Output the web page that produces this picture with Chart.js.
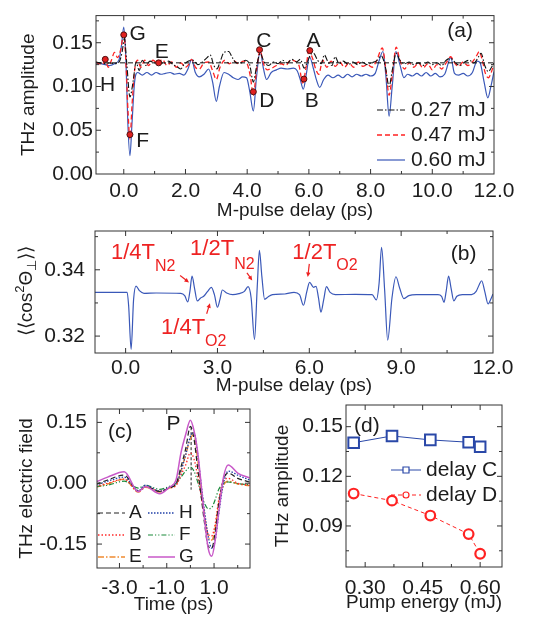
<!DOCTYPE html>
<html>
<head>
<meta charset="utf-8">
<script src="https://cdn.jsdelivr.net/npm/chart.js@4.4.1/dist/chart.umd.min.js"></script>
<style>
  html, body { margin: 0; padding: 0; background: #fff; }
  #wrap { position: relative; width: 535px; height: 619px; }
  canvas { position: absolute; left: 0; top: 0; }
</style>
</head>
<body>
<div id="wrap">
  <canvas id="ca" width="535" height="619"></canvas>
  <canvas id="cb" width="535" height="619"></canvas>
  <canvas id="cc" width="535" height="619"></canvas>
  <canvas id="cd" width="535" height="619"></canvas>
</div>
<script>
const FONT = "'Liberation Sans', Arial, Helvetica, sans-serif";
const INK = '#1c1c1c';
const RED = '#ee2222';

// (a) THz amplitude vs M-pulse delay, [delay ps, amplitude]
const amp027 = [[-0.9,0.128],[-0.75,0.127],[-0.6,0.126],[-0.45,0.127],[-0.3,0.126],[-0.15,0.128],[-0.05,0.14],[0.02,0.155],[0.1,0.125],[0.2,0.088],[0.3,0.105],[0.4,0.128],[0.5,0.118],[0.6,0.13],[0.72,0.124],[0.85,0.129],[1.0,0.127],[1.15,0.129],[1.3,0.126],[1.45,0.129],[1.6,0.125],[1.75,0.122],[1.85,0.12],[1.95,0.125],[2.1,0.129],[2.25,0.13],[2.4,0.125],[2.55,0.128],[2.7,0.133],[2.8,0.136],[2.92,0.124],[3.02,0.12],[3.12,0.128],[3.25,0.139],[3.4,0.14],[3.52,0.133],[3.65,0.127],[3.8,0.127],[3.95,0.13],[4.08,0.125],[4.2,0.105],[4.3,0.122],[4.42,0.138],[4.55,0.128],[4.7,0.124],[4.85,0.128],[5.0,0.126],[5.15,0.13],[5.3,0.127],[5.45,0.131],[5.6,0.128],[5.72,0.131],[5.85,0.121],[5.95,0.128],[6.05,0.136],[6.15,0.138],[6.28,0.13],[6.4,0.126],[6.5,0.136],[6.62,0.128],[6.75,0.124],[6.85,0.134],[6.98,0.126],[7.12,0.129],[7.28,0.125],[7.42,0.128],[7.58,0.125],[7.72,0.128],[7.88,0.125],[8.02,0.127],[8.18,0.129],[8.35,0.135],[8.48,0.122],[8.6,0.1],[8.7,0.118],[8.83,0.138],[8.95,0.13],[9.1,0.126],[9.25,0.128],[9.4,0.125],[9.55,0.127],[9.7,0.124],[9.85,0.128],[10.0,0.125],[10.15,0.127],[10.3,0.124],[10.45,0.13],[10.6,0.132],[10.75,0.127],[10.9,0.124],[11.05,0.128],[11.2,0.13],[11.35,0.127],[11.5,0.134],[11.58,0.138],[11.7,0.124],[11.82,0.117],[11.92,0.122],[12.0,0.127]];
const amp047 = [[-0.9,0.128],[-0.8,0.126],[-0.7,0.125],[-0.6,0.13],[-0.5,0.122],[-0.4,0.13],[-0.3,0.139],[-0.2,0.133],[-0.1,0.142],[0.0,0.16],[0.08,0.12],[0.14,0.07],[0.2,0.04],[0.27,0.08],[0.35,0.118],[0.45,0.13],[0.55,0.122],[0.68,0.13],[0.8,0.124],[0.95,0.13],[1.1,0.126],[1.25,0.131],[1.4,0.124],[1.55,0.128],[1.7,0.122],[1.85,0.127],[2.0,0.122],[2.1,0.125],[2.2,0.131],[2.32,0.122],[2.45,0.12],[2.6,0.127],[2.75,0.128],[2.88,0.118],[3.0,0.108],[3.12,0.122],[3.28,0.13],[3.42,0.126],[3.58,0.129],[3.72,0.126],[3.88,0.129],[4.0,0.126],[4.1,0.112],[4.2,0.09],[4.3,0.118],[4.42,0.141],[4.53,0.126],[4.65,0.119],[4.8,0.121],[4.95,0.124],[5.1,0.126],[5.25,0.124],[5.4,0.13],[5.55,0.129],[5.68,0.124],[5.8,0.104],[5.9,0.12],[6.0,0.14],[6.12,0.132],[6.22,0.12],[6.32,0.114],[6.45,0.13],[6.58,0.122],[6.72,0.129],[6.86,0.123],[7.0,0.128],[7.15,0.122],[7.3,0.127],[7.45,0.122],[7.6,0.128],[7.75,0.123],[7.9,0.125],[8.05,0.122],[8.2,0.13],[8.38,0.144],[8.5,0.118],[8.6,0.09],[8.7,0.112],[8.83,0.145],[8.95,0.13],[9.1,0.12],[9.25,0.127],[9.4,0.122],[9.55,0.127],[9.7,0.121],[9.85,0.126],[10.0,0.119],[10.15,0.125],[10.3,0.12],[10.45,0.127],[10.6,0.134],[10.72,0.127],[10.85,0.123],[11.0,0.128],[11.15,0.124],[11.3,0.128],[11.45,0.136],[11.52,0.14],[11.62,0.13],[11.72,0.115],[11.82,0.11],[11.92,0.117],[12.0,0.126]];
const amp060 = [[-0.9,0.127],[-0.75,0.126],[-0.6,0.125],[-0.45,0.124],[-0.3,0.126],[-0.15,0.131],[-0.07,0.148],[0.0,0.168],[0.07,0.13],[0.13,0.06],[0.2,0.021],[0.27,0.06],[0.35,0.105],[0.45,0.116],[0.6,0.113],[0.75,0.116],[0.9,0.113],[1.05,0.116],[1.2,0.114],[1.35,0.115],[1.5,0.116],[1.65,0.114],[1.8,0.115],[1.95,0.113],[2.08,0.12],[2.2,0.131],[2.32,0.116],[2.45,0.111],[2.6,0.114],[2.75,0.12],[2.88,0.105],[3.0,0.083],[3.1,0.1],[3.25,0.116],[3.4,0.114],[3.55,0.11],[3.7,0.108],[3.85,0.111],[3.98,0.11],[4.08,0.095],[4.2,0.072],[4.3,0.11],[4.42,0.14],[4.53,0.12],[4.63,0.108],[4.78,0.116],[4.95,0.119],[5.1,0.121],[5.3,0.12],[5.5,0.121],[5.62,0.118],[5.72,0.108],[5.82,0.097],[5.92,0.115],[6.02,0.134],[6.15,0.12],[6.25,0.107],[6.35,0.099],[6.48,0.108],[6.62,0.113],[6.78,0.11],[6.95,0.113],[7.1,0.11],[7.25,0.114],[7.4,0.111],[7.55,0.114],[7.7,0.112],[7.85,0.114],[8.0,0.112],[8.15,0.115],[8.28,0.13],[8.4,0.14],[8.5,0.11],[8.6,0.066],[8.7,0.1],[8.82,0.14],[8.95,0.125],[9.08,0.11],[9.2,0.114],[9.35,0.112],[9.5,0.115],[9.65,0.112],[9.8,0.116],[9.95,0.112],[10.1,0.115],[10.25,0.111],[10.4,0.114],[10.6,0.133],[10.72,0.115],[10.85,0.113],[11.0,0.115],[11.15,0.112],[11.3,0.116],[11.45,0.129],[11.55,0.127],[11.68,0.105],[11.8,0.087],[11.9,0.1],[12.0,0.117]];
const ampBase = 0.127;
const markNames = ['H', 'G', 'F', 'E', 'D', 'C', 'B', 'A'];
const markDelay = [-0.6, 0.0, 0.2, 1.13, 4.2, 4.4, 5.84, 6.03];
const markAmp = [0.131, 0.159, 0.045, 0.127, 0.094, 0.142, 0.1085, 0.141];

// (b) calculated alignment <<cos^2>> vs delay
const alignCurve = [[-1.0,0.3332],[0.05,0.3332],[0.1,0.329],[0.18,0.316],[0.26,0.331],[0.34,0.3351],[0.45,0.3337],[0.6,0.3329],[1.0,0.333],[1.8,0.3329],[1.93,0.3322],[2.03,0.3303],[2.1,0.3335],[2.17,0.3381],[2.25,0.3345],[2.34,0.3306],[2.45,0.3315],[2.55,0.332],[2.68,0.3335],[2.8,0.3347],[2.9,0.3325],[3.0,0.3287],[3.08,0.331],[3.16,0.3339],[3.3,0.333],[3.5,0.3325],[3.7,0.3328],[3.88,0.3335],[4.0,0.3349],[4.1,0.3315],[4.21,0.319],[4.3,0.335],[4.37,0.3459],[4.45,0.338],[4.54,0.3311],[4.65,0.3318],[4.8,0.3325],[5.2,0.3327],[5.5,0.3332],[5.68,0.3325],[5.81,0.3293],[5.92,0.3335],[6.01,0.3362],[6.14,0.3347],[6.22,0.335],[6.3,0.3315],[6.38,0.3272],[6.47,0.331],[6.56,0.3349],[6.68,0.3332],[6.85,0.3325],[7.5,0.3326],[8.05,0.3325],[8.19,0.3309],[8.28,0.336],[8.36,0.3468],[8.46,0.334],[8.56,0.3188],[8.7,0.3315],[8.83,0.3379],[8.95,0.3345],[9.09,0.3313],[9.25,0.3322],[9.5,0.3325],[10.2,0.3325],[10.32,0.332],[10.4,0.3302],[10.47,0.3335],[10.55,0.3381],[10.63,0.3345],[10.72,0.3306],[10.82,0.332],[11.0,0.3325],[11.3,0.3325],[11.45,0.3335],[11.55,0.3355],[11.63,0.3367],[11.73,0.3335],[11.84,0.3297],[11.93,0.3312],[12.0,0.3327]];

// (c) THz waveforms at delays A..H
const waveTime = [-4, -3.5, -2.8, -2.2, -1.9, -1.3, -0.9, -0.6, -0.4, -0.2, 0, 0.15, 0.3, 0.45, 0.6, 0.75, 0.9, 1.05, 1.2, 1.4, 1.6, 2.0, 2.5];
const waveA = [-0.003, 0.008, 0.02, -0.02, -0.008, -0.02, -0.012, 0.0, 0.04, 0.085, 0.14, 0.11, 0.04, -0.03, -0.1, -0.155, -0.16, -0.12, -0.05, 0.01, 0.025, 0.012, 0.003];
const waveH = [-0.005, 0.005, 0.015, -0.018, -0.005, -0.02, -0.01, 0.0, 0.03, 0.07, 0.115, 0.125, 0.075, 0.0, -0.07, -0.13, -0.16, -0.14, -0.075, 0.0, 0.03, 0.02, 0.008];
const waveB = [-0.008, 0.0, 0.01, -0.02, -0.008, -0.02, -0.012, -0.005, 0.02, 0.045, 0.075, 0.06, 0.02, -0.03, -0.085, -0.125, -0.13, -0.1, -0.04, 0.005, 0.012, 0.0, -0.005];
const waveF = [-0.008, -0.005, 0.005, -0.012, -0.005, -0.015, -0.008, 0.0, 0.015, 0.03, 0.04, 0.03, 0.005, -0.025, -0.05, -0.063, -0.06, -0.04, -0.015, 0.0, 0.003, -0.001, -0.004];
const waveE = [-0.01, -0.002, 0.01, -0.022, -0.01, -0.022, -0.012, -0.003, 0.03, 0.07, 0.11, 0.12, 0.06, -0.01, -0.08, -0.13, -0.14, -0.11, -0.05, -0.005, 0.005, -0.002, -0.006];
const waveG = [0.003, 0.015, 0.028, -0.021, -0.008, -0.026, -0.01, 0.01, 0.075, 0.12, 0.155, 0.13, 0.08, 0.0, -0.09, -0.16, -0.18, -0.14, -0.07, 0.015, 0.045, 0.025, 0.013];
const peakTime = 0.03;
const peakTop = 0.138;
const peakBottom = -0.016;

// (d) THz amplitude vs pump energy
const pumpEnergy = [0.27, 0.37, 0.47, 0.57, 0.60];
const delayC = [0.1403, 0.1444, 0.142, 0.1406, 0.1379];
const delayD = [0.1096, 0.1053, 0.0963, 0.0851, 0.0732];

// ---------- helpers ----------
const pairs = arr => arr.map(p => ({x: p[0], y: p[1]}));
const zip = (xs, ys) => xs.map((x, i) => ({x: x, y: ys[i]}));

function tickValues(step, min, max) {
  const out = [];
  const k0 = Math.ceil(min / step - 1e-9), k1 = Math.floor(max / step + 1e-9);
  for (let k = k0; k <= k1; k++) out.push(+(k * step).toFixed(6));
  return out;
}

function axis(o) {
  return {
    type: 'linear', min: o.min, max: o.max,
    afterBuildTicks: s => { s.ticks = tickValues(o.step, o.min, o.max).map(v => ({value: v})); },
    afterFit: s => { if (o.width) s.width = o.width; if (o.height) s.height = o.height; },
    grid: {display: false, drawTicks: false},
    border: {display: false},
    ticks: {
      autoSkip: false, maxRotation: 0, padding: o.pad, color: INK,
      font: {family: FONT, size: 21},
      callback: v => o.major.some(m => Math.abs(m - v) < 1e-9) ? v.toFixed(o.dec) : ''
    },
    title: o.title
      ? {display: true, text: o.title, color: INK, font: {family: FONT, size: 19}, padding: o.tpad}
      : {display: false}
  };
}

// box round the plot with inward ticks on all four sides
const frame = {
  id: 'frame',
  afterDatasetsDraw(chart) {
    const {ctx, chartArea: a, scales: {x, y}} = chart;
    ctx.save();
    ctx.strokeStyle = '#333';
    ctx.lineWidth = 1;
    ctx.strokeRect(a.left, a.top, a.width, a.height);
    ctx.beginPath();
    x.ticks.forEach(t => {
      if (t.value <= x.min + 1e-9 || t.value >= x.max - 1e-9) return;
      const px = x.getPixelForValue(t.value), len = t.label ? 5 : 3;
      ctx.moveTo(px, a.bottom); ctx.lineTo(px, a.bottom - len);
      ctx.moveTo(px, a.top); ctx.lineTo(px, a.top + len);
    });
    y.ticks.forEach(t => {
      if (t.value <= y.min + 1e-9 || t.value >= y.max - 1e-9) return;
      const py = y.getPixelForValue(t.value), len = t.label ? 5 : 3;
      ctx.moveTo(a.left, py); ctx.lineTo(a.left + len, py);
      ctx.moveTo(a.right, py); ctx.lineTo(a.right - len, py);
    });
    ctx.stroke();
    ctx.restore();
  }
};

// text placed in data coordinates, optional subscript
const notes = {
  id: 'notes',
  afterDraw(chart, args, o) {
    const {ctx, scales: {x, y}} = chart;
    (o.items || []).forEach(n => {
      ctx.save();
      ctx.fillStyle = n.color || INK;
      ctx.font = (n.size || 21) + 'px ' + FONT;
      ctx.textBaseline = 'middle';
      ctx.textAlign = n.sub ? 'left' : 'center';
      const px = x.getPixelForValue(n.x), py = y.getPixelForValue(n.y);
      ctx.fillText(n.text, px, py);
      if (n.sub) {
        const w = ctx.measureText(n.text).width;
        ctx.font = n.subSize + 'px ' + FONT;
        ctx.fillText(n.sub, px + w, py + n.subDy);
      }
      ctx.restore();
    });
  }
};

const arrows = {
  id: 'arrows',
  afterDraw(chart, args, o) {
    const {ctx, scales: {x, y}} = chart;
    (o.items || []).forEach(r => {
      const x1 = x.getPixelForValue(r[0]), y1 = y.getPixelForValue(r[1]);
      const x2 = x.getPixelForValue(r[2]), y2 = y.getPixelForValue(r[3]);
      const ang = Math.atan2(y2 - y1, x2 - x1), h = 5;
      ctx.save();
      ctx.strokeStyle = RED; ctx.fillStyle = RED; ctx.lineWidth = 1.2;
      ctx.beginPath(); ctx.moveTo(x1, y1); ctx.lineTo(x2 - Math.cos(ang) * 3, y2 - Math.sin(ang) * 3); ctx.stroke();
      ctx.beginPath();
      ctx.moveTo(x2, y2);
      ctx.lineTo(x2 - h * Math.cos(ang - 0.45), y2 - h * Math.sin(ang - 0.45));
      ctx.lineTo(x2 - h * Math.cos(ang + 0.45), y2 - h * Math.sin(ang + 0.45));
      ctx.closePath(); ctx.fill();
      ctx.restore();
    });
  }
};

// hand-made legend at fixed spots
const keyBox = {
  id: 'keyBox',
  afterDraw(chart, args, o) {
    const ctx = chart.ctx;
    (o.items || []).forEach(it => {
      const ds = chart.data.datasets[it.ds];
      ctx.save();
      ctx.strokeStyle = ds.borderColor;
      ctx.lineWidth = ds.borderWidth;
      ctx.setLineDash(ds.borderDash || []);
      ctx.beginPath(); ctx.moveTo(it.x, it.y); ctx.lineTo(it.x + o.len, it.y); ctx.stroke();
      ctx.setLineDash([]);
      if (o.mark) {
        const cx = it.x + o.len / 2;
        ctx.fillStyle = '#fff'; ctx.lineWidth = 1.2;
        ctx.beginPath();
        if (ds.pointStyle === 'rect') ctx.rect(cx - o.mark, it.y - o.mark, o.mark * 2, o.mark * 2);
        else ctx.arc(cx, it.y, o.mark, 0, Math.PI * 2);
        ctx.fill(); ctx.stroke();
      }
      ctx.fillStyle = INK;
      ctx.font = o.size + 'px ' + FONT;
      ctx.textBaseline = 'middle';
      ctx.fillText(ds.label, it.x + o.len + o.gap, it.y);
      ctx.restore();
    });
  }
};

// rotated y title with super/subscripts for panel (b)
const richTitle = {
  id: 'richTitle',
  afterDraw(chart, args, o) {
    if (!o.parts) return;
    const ctx = chart.ctx;
    ctx.save();
    ctx.translate(o.x, o.y);
    ctx.rotate(-Math.PI / 2);
    ctx.fillStyle = INK;
    ctx.textBaseline = 'middle';
    let total = 0;
    o.parts.forEach(p => { ctx.font = p[1] + 'px ' + FONT; total += ctx.measureText(p[0]).width; });
    let cx = -total / 2;
    o.parts.forEach(p => {
      ctx.font = p[1] + 'px ' + FONT;
      ctx.fillText(p[0], cx, p[2]);
      cx += ctx.measureText(p[0]).width;
    });
    ctx.restore();
  }
};

const base = {
  responsive: false, animation: false, events: [],
  elements: {point: {radius: 0}, line: {borderWidth: 1.2, fill: false, cubicInterpolationMode: 'monotone'}}
};
const plain = {legend: {display: false}, tooltip: {enabled: false}};

// ---------- (a) ----------
new Chart(document.getElementById('ca'), {
  type: 'line',
  data: {datasets: [
    {label: 'marks', data: zip(markDelay, markAmp), showLine: false, pointRadius: 3,
     pointBackgroundColor: '#e02020', pointBorderColor: '#501010', pointBorderWidth: 1},
    {label: 'base', data: [{x: -0.9, y: ampBase}, {x: 12, y: ampBase}], borderColor: '#111', borderWidth: 1, borderDash: [5, 3]},
    {label: '0.27 mJ', data: pairs(amp027), borderColor: '#111', borderWidth: 1.1, borderDash: [6, 2, 1.5, 2]},
    {label: '0.47 mJ', data: pairs(amp047), borderColor: '#ff2222', borderWidth: 1.3, borderDash: [5, 3]},
    {label: '0.60 mJ', data: pairs(amp060), borderColor: '#3a58b8', borderWidth: 1.2}
  ]},
  options: Object.assign({}, base, {
    layout: {padding: {left: 0, right: 41, top: 4, bottom: 393}},
    scales: {
      x: axis({min: -0.9, max: 12, major: [0, 2, 4, 6, 8, 10, 12], step: 1, dec: 1, height: 52, pad: 5,
               title: 'M-pulse delay (ps)', tpad: {top: 0, bottom: 4}}),
      y: axis({min: 0, max: 0.181, major: [0, 0.05, 0.1, 0.15], step: 0.025, dec: 2, width: 96, pad: 3,
               title: 'THz amplitude', tpad: {top: 17, bottom: 0}})
    },
    plugins: Object.assign({}, plain, {
      notes: {items: [
        {text: 'G', x: 0.45, y: 0.1595}, {text: 'H', x: -0.525, y: 0.101},
        {text: 'E', x: 1.23, y: 0.139}, {text: 'F', x: 0.61, y: 0.0372},
        {text: 'C', x: 4.54, y: 0.1514}, {text: 'A', x: 6.15, y: 0.1514},
        {text: 'D', x: 4.64, y: 0.0832}, {text: 'B', x: 6.09, y: 0.0832},
        {text: '(a)', x: 10.9, y: 0.1628}
      ]},
      keyBox: {len: 28, gap: 6, size: 21, items: [
        {ds: 2, x: 377, y: 110}, {ds: 3, x: 377, y: 135}, {ds: 4, x: 377, y: 160}
      ]}
    })
  }),
  plugins: [frame, notes, keyBox]
});

// ---------- (b) ----------
new Chart(document.getElementById('cb'), {
  type: 'line',
  data: {datasets: [
    {label: 'align', data: pairs(alignCurve), borderColor: '#3a58b8', borderWidth: 1.2}
  ]},
  options: Object.assign({}, base, {
    layout: {padding: {left: 0, right: 42, top: 231, bottom: 218}},
    scales: {
      x: axis({min: -1, max: 12, major: [0, 3, 6, 9, 12], step: 1.5, dec: 1, height: 48, pad: 3,
               title: 'M-pulse delay (ps)', tpad: {top: 0, bottom: 4}}),
      y: axis({min: 0.3149, max: 0.3517, major: [0.32, 0.34], step: 0.01, dec: 2, width: 95, pad: 10})
    },
    plugins: Object.assign({}, plain, {
      notes: {items: [
        {text: '1/4T', sub: 'N2', x: -0.478, y: 0.34504, size: 22, subSize: 16, subDy: 14, color: RED},
        {text: '1/2T', sub: 'N2', x: 2.107, y: 0.34624, size: 22, subSize: 16, subDy: 15, color: RED},
        {text: '1/4T', sub: 'O2', x: 1.158, y: 0.32241, size: 22, subSize: 16, subDy: 13, color: RED},
        {text: '1/2T', sub: 'O2', x: 5.445, y: 0.34504, size: 22, subSize: 16, subDy: 13, color: RED},
        {text: '(b)', x: 11.04, y: 0.3447}
      ]},
      arrows: {items: [
        [1.78, 0.33825, 2.07, 0.3362],
        [3.963, 0.33906, 4.136, 0.3368],
        [6.0, 0.34178, 5.95, 0.3378],
        [2.647, 0.32673, 2.755, 0.32989]
      ]},
      richTitle: {x: 27, y: 291, parts: [['\u27E8\u27E8cos', 19, 0], ['2', 13, -7], ['\u0398', 19, 0], ['\u22A5', 13, 5], ['\u27E9\u27E9', 19, 0]]}
    })
  }),
  plugins: [frame, notes, arrows, richTitle]
});

// ---------- (c) ----------
new Chart(document.getElementById('cc'), {
  type: 'line',
  data: {datasets: [
    {label: 'G', data: zip(waveTime, waveG), borderColor: '#c858c8', borderWidth: 1.5},
    {label: 'A', data: zip(waveTime, waveA), borderColor: '#222', borderWidth: 1.2, borderDash: [5, 3]},
    {label: 'H', data: zip(waveTime, waveH), borderColor: '#2040a8', borderWidth: 1.3, borderDash: [1.5, 1.5]},
    {label: 'B', data: zip(waveTime, waveB), borderColor: '#ff2a2a', borderWidth: 1.3, borderDash: [1.5, 2]},
    {label: 'F', data: zip(waveTime, waveF), borderColor: '#1a8a3a', borderWidth: 1.2, borderDash: [5, 2, 1.2, 2, 1.2, 2]},
    {label: 'E', data: zip(waveTime, waveE), borderColor: '#f08a30', borderWidth: 1.4, borderDash: [6, 2, 1.5, 2]},
    {label: 'P', data: [{x: peakTime, y: peakTop}, {x: peakTime, y: peakBottom}], borderColor: '#222', borderWidth: 1, borderDash: [3, 2]}
  ]},
  options: Object.assign({}, base, {
    layout: {padding: {left: 0, right: 285, top: 409, bottom: 0}},
    scales: {
      x: axis({min: -3.95, max: 2.52, major: [-3, -1, 1], step: 1, dec: 1, height: 51, pad: 8,
               title: 'Time (ps)', tpad: {top: 0, bottom: 3}}),
      y: axis({min: -0.209, max: 0.183, major: [-0.15, 0, 0.15], step: 0.075, dec: 2, width: 97, pad: 10,
               title: 'THz electric field', tpad: {top: 15, bottom: 0}})
    },
    plugins: Object.assign({}, plain, {
      notes: {items: [
        {text: '(c)', x: -2.97, y: 0.126},
        {text: 'P', x: -0.71, y: 0.145}
      ]},
      keyBox: {len: 27, gap: 4, size: 19, items: [
        {ds: 1, x: 98, y: 513}, {ds: 2, x: 148, y: 513},
        {ds: 3, x: 98, y: 535}, {ds: 4, x: 148, y: 535},
        {ds: 5, x: 98, y: 557}, {ds: 0, x: 148, y: 557}
      ]}
    })
  }),
  plugins: [frame, notes, keyBox]
});

// ---------- (d) ----------
new Chart(document.getElementById('cd'), {
  type: 'line',
  data: {datasets: [
    {label: 'delay C', data: zip(pumpEnergy, delayC), borderColor: '#2a48a8', borderWidth: 1,
     pointStyle: 'rect', pointRadius: 7.5, pointBorderWidth: 2, pointBackgroundColor: '#fff', pointBorderColor: '#2a48a8'},
    {label: 'delay D', data: zip(pumpEnergy, delayD), borderColor: '#ff2222', borderWidth: 1, borderDash: [4, 3],
     pointStyle: 'circle', pointRadius: 4.8, pointBorderWidth: 2.2, pointBackgroundColor: '#fff', pointBorderColor: '#ff2222'}
  ]},
  options: Object.assign({}, base, {
    elements: {point: {radius: 0}, line: {borderWidth: 1, fill: false, tension: 0}},
    layout: {padding: {left: 265, right: 33, top: 405, bottom: 0}},
    scales: {
      x: axis({min: 0.25, max: 0.657, major: [0.3, 0.45, 0.6], step: 0.075, dec: 2, height: 52, pad: 9,
               title: 'Pump energy (mJ)', tpad: {top: 0, bottom: 5}}),
      y: axis({min: 0.0652, max: 0.1631, major: [0.09, 0.12, 0.15], step: 0.015, dec: 2, width: 81, pad: 3,
               title: 'THz amplitude', tpad: {top: 6, bottom: 0}})
    },
    plugins: Object.assign({}, plain, {
      notes: {items: [{text: '(d)', x: 0.3044, y: 0.1504}]},
      keyBox: {len: 30, gap: 5, size: 21, mark: 3, items: [
        {ds: 0, x: 391, y: 470}, {ds: 1, x: 391, y: 495}
      ]}
    })
  }),
  plugins: [frame, notes, keyBox]
});
</script>
</body>
</html>
